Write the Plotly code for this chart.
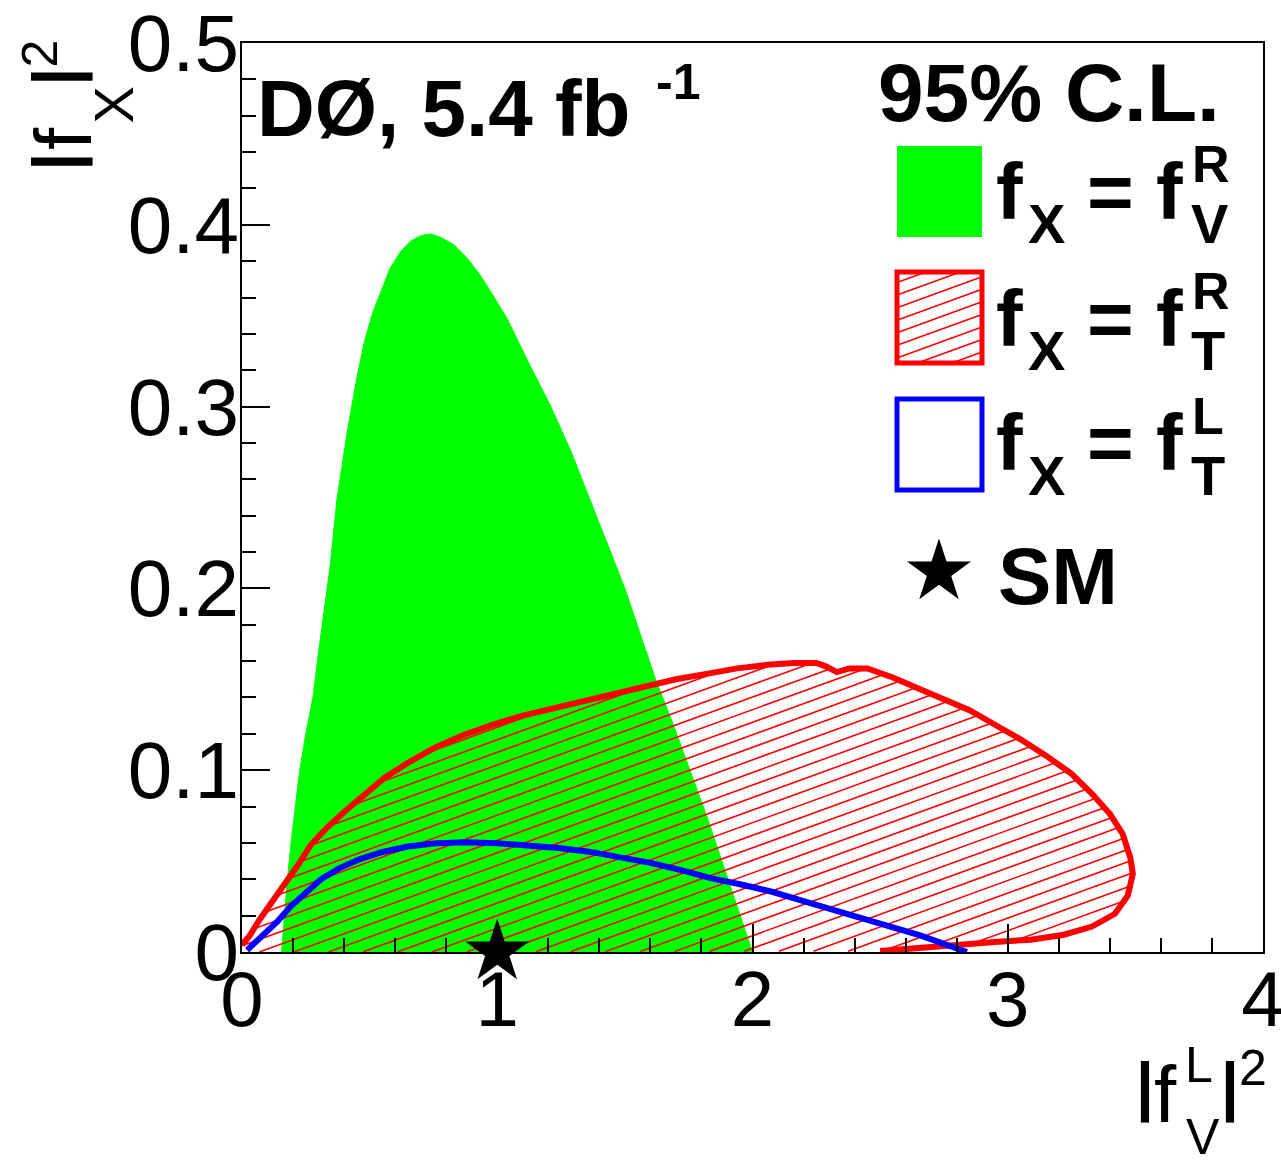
import numpy as np
import plotly.graph_objects as go

# ---------------------------------------------------------------------------
# 95% C.L. regions in the (|f_V^L|^2, |f_X|^2) plane
# ---------------------------------------------------------------------------

# f_X = f_V^R : filled region, boundary traced from the lower left
vr_x = [0.155, 0.166, 0.178, 0.192, 0.208, 0.226, 0.250, 0.278, 0.300, 0.325,
        0.345, 0.372, 0.411, 0.450, 0.480, 0.513, 0.545, 0.580, 0.620, 0.660,
        0.700, 0.740, 0.780, 0.830, 0.880, 0.930, 0.980, 1.040, 1.120, 1.210,
        1.290, 1.360, 1.430, 1.500, 1.560, 1.620, 1.690, 1.755, 1.820, 1.880,
        1.940, 2.000]
vr_y = [0.000, 0.020, 0.040, 0.060, 0.080, 0.100, 0.120, 0.140, 0.165, 0.190,
        0.212, 0.249, 0.285, 0.316, 0.336, 0.352, 0.364, 0.376, 0.385, 0.391,
        0.394, 0.395, 0.393, 0.389, 0.382, 0.373, 0.362, 0.348, 0.325, 0.300,
        0.275, 0.250, 0.225, 0.200, 0.175, 0.150, 0.125, 0.100, 0.075, 0.050,
        0.025, 0.000]

# f_X = f_T^R : contour (hatched inside, closed along |f_X|^2 = 0)
tr_x = [0.00, 0.03, 0.07, 0.12, 0.17, 0.22, 0.27, 0.33, 0.40, 0.48,
        0.56, 0.65, 0.75, 0.86, 0.98, 1.10, 1.22, 1.34, 1.46, 1.58,
        1.70, 1.82, 1.94, 2.06, 2.16, 2.25, 2.29, 2.33, 2.38, 2.45,
        2.55, 2.65, 2.75, 2.85, 2.95, 3.05, 3.15, 3.25, 3.33, 3.40,
        3.45, 3.48, 3.49, 3.47, 3.42, 3.33, 3.22, 3.09, 2.95, 2.80,
        2.65, 2.50]
tr_y = [0.004, 0.009, 0.018, 0.028, 0.037, 0.048, 0.059, 0.068, 0.077, 0.087,
        0.096, 0.104, 0.112, 0.119, 0.125, 0.130, 0.134, 0.138, 0.142, 0.146,
        0.150, 0.153, 0.156, 0.158, 0.159, 0.159, 0.157, 0.154, 0.156, 0.156,
        0.151, 0.145, 0.139, 0.133, 0.125, 0.117, 0.108, 0.098, 0.087, 0.076,
        0.065, 0.052, 0.043, 0.031, 0.021, 0.014, 0.0095, 0.0068, 0.0055, 0.004,
        0.002, 0.0005]

# f_X = f_T^L : contour line
tl_x = [0.02, 0.05, 0.09, 0.14, 0.19, 0.25, 0.31, 0.38, 0.46, 0.55,
        0.65, 0.76, 0.88, 1.00, 1.12, 1.24, 1.36, 1.48, 1.60, 1.72,
        1.84, 1.96, 2.08, 2.20, 2.32, 2.44, 2.56, 2.66, 2.75, 2.84]
tl_y = [0.001, 0.005, 0.010, 0.017, 0.025, 0.033, 0.040, 0.046, 0.051, 0.055,
        0.058, 0.0598, 0.0603, 0.0598, 0.0588, 0.0572, 0.0552, 0.0525, 0.049, 0.045,
        0.0405, 0.037, 0.033, 0.028, 0.023, 0.018, 0.0135, 0.009, 0.0045, 0.000]

# Standard Model point
sm_x = [1.0]
sm_y = [0.0]

x_range = [0, 4]
y_range = [0, 0.5]
x_ticks = [0, 1, 2, 3, 4]
y_ticks = [0, 0.1, 0.2, 0.3, 0.4, 0.5]

# ---------------------------------------------------------------------------
# canvas geometry (pixels)
# ---------------------------------------------------------------------------
W, H = 1281, 1164
ML, MR, MT, MB = 242, 18, 43, 212
PW = W - ML - MR
PH = H - MT - MB
PBOT = H - MB
SX = PW / (x_range[1] - x_range[0])
SY = PH / (y_range[1] - y_range[0])

FONT = "Liberation Sans, Arial, Helvetica, sans-serif"
GREEN = "#00ff00"
RED = "#ff0000"
BLUE = "#0000ff"

HATCH_ANGLE = 20.0     # degrees
HATCH_STEP = 11.8      # px between hatch lines
STAR_SIZE = 48


def hatch_lines(px, py, angle=HATCH_ANGLE, step=HATCH_STEP):
    """Parallel line segments clipped to a closed polygon (pixel units)."""
    pts = np.column_stack([px, py]).astype(float)
    a = np.radians(angle)
    d = np.array([np.cos(a), np.sin(a)])
    n = np.array([-np.sin(a), np.cos(a)])
    proj = pts @ n
    segs = []
    c = np.floor(proj.min() / step) * step + step / 2
    while c < proj.max():
        ts = []
        m = len(pts)
        for i in range(m):
            p, q = pts[i], pts[(i + 1) % m]
            fp, fq = p @ n - c, q @ n - c
            if (fp > 0) != (fq > 0):
                s = fp / (fp - fq)
                r = p + s * (q - p)
                ts.append(r @ d)
        ts.sort()
        for t0, t1 in zip(ts[0::2], ts[1::2]):
            segs.append((c * n + t0 * d, c * n + t1 * d))
        c += step
    return segs


fig = go.Figure()

# f_V^R region
fig.add_trace(go.Scatter(x=vr_x, y=vr_y, mode="lines", fill="toself",
                         fillcolor=GREEN, line=dict(color=GREEN, width=1),
                         hoverinfo="skip"))

# f_T^R hatching, computed in screen-proportional units so the angle is true
poly_x = np.array(tr_x + [0.0]) * SX
poly_y = np.array(tr_y + [0.0]) * SY
hx, hy = [], []
for p0, p1 in hatch_lines(poly_x, poly_y):
    hx += [p0[0] / SX, p1[0] / SX, None]
    hy += [p0[1] / SY, p1[1] / SY, None]
fig.add_trace(go.Scatter(x=hx, y=hy, mode="lines",
                         line=dict(color=RED, width=1.6), hoverinfo="skip"))

# f_T^R contour
fig.add_trace(go.Scatter(x=tr_x, y=tr_y, mode="lines",
                         line=dict(color=RED, width=6), hoverinfo="skip"))

# f_T^L contour
fig.add_trace(go.Scatter(x=tl_x, y=tl_y, mode="lines",
                         line=dict(color=BLUE, width=6), hoverinfo="skip"))

# SM
fig.add_trace(go.Scatter(x=sm_x, y=sm_y, mode="markers", cliponaxis=False,
                         marker=dict(symbol="star", size=STAR_SIZE, color="black",
                                     line=dict(width=0)),
                         hoverinfo="skip"))

# legend star, on a pixel-unit overlay
fig.add_trace(go.Scatter(x=[939], y=[572], xaxis="x2", yaxis="y2",
                         mode="markers", cliponaxis=False,
                         marker=dict(symbol="star", size=STAR_SIZE, color="black",
                                     line=dict(width=0)),
                         hoverinfo="skip"))


# ---------------------------------------------------------------------------
# text and legend, placed in pixel units
# ---------------------------------------------------------------------------
def px2paper(x, y):
    return (x - ML) / PW, (PBOT - y) / PH


def text(s, x, baseline, size, bold=False):
    """x: left edge of the text (pixels); baseline: text baseline (pixels)."""
    xp, yp = px2paper(x + 2, baseline - 0.35 * size)
    fig.add_annotation(x=xp, y=yp, xref="paper", yref="paper",
                       text=f"<b>{s}</b>" if bold else s, showarrow=False,
                       xanchor="left", yanchor="middle",
                       borderpad=0, borderwidth=0,
                       font=dict(family=FONT, size=size, color="black"))


def rtext(s, base_x, center_y, size, bold=False):
    """Text rotated by -90 degrees; base_x is the baseline position."""
    xp, yp = px2paper(base_x - 0.35 * size, center_y)
    fig.add_annotation(x=xp, y=yp, xref="paper", yref="paper",
                       text=f"<b>{s}</b>" if bold else s,
                       showarrow=False, xanchor="center", yanchor="middle",
                       textangle=-90, borderpad=0, borderwidth=0,
                       font=dict(family=FONT, size=size, color="black"))


# experiment label
text("DØ, 5.4 fb", 255, 137, 80, bold=True)
text("-1", 654, 100, 50, bold=True)

# legend header
text("95% C.L.", 876, 121, 82, bold=True)

# legend rows
BOX_X0, BOX_X1 = 897, 982
rows = [
    dict(y0=146, y1=237, base=219, sup="R", sub="V"),
    dict(y0=272, y1=363, base=346, sup="R", sub="T"),
    dict(y0=399, y1=490, base=471, sup="L", sub="T"),
]
for r in rows:
    b = r["base"]
    text("f", 994, b, 80, bold=True)
    text("X", 1026, b + 24, 56, bold=True)
    text("=", 1085, b, 80, bold=True)
    text("f", 1154, b, 80, bold=True)
    text(r["sub"], 1189, b + 24, 56, bold=True)
    text(r["sup"], 1190, b - 37, 52, bold=True)


def rect(x0, y0, x1, y1, **kw):
    a0, b0 = px2paper(x0, y1)
    a1, b1 = px2paper(x1, y0)
    fig.add_shape(type="rect", xref="paper", yref="paper",
                  x0=a0, y0=b0, x1=a1, y1=b1, layer="above", **kw)


g, rr, bb = rows
rect(BOX_X0, g["y0"], BOX_X1, g["y1"], fillcolor=GREEN, line=dict(width=0))

# hatch inside the f_T^R legend box
bx = np.array([BOX_X0, BOX_X1, BOX_X1, BOX_X0], float)
by = -np.array([rr["y0"], rr["y0"], rr["y1"], rr["y1"]], float)
path = []
for p0, p1 in hatch_lines(bx, by):
    a0, b0 = px2paper(p0[0], -p0[1])
    a1, b1 = px2paper(p1[0], -p1[1])
    path.append(f"M{a0:.5f},{b0:.5f} L{a1:.5f},{b1:.5f}")
fig.add_shape(type="path", xref="paper", yref="paper", path=" ".join(path),
              line=dict(color=RED, width=1.6), layer="above")
rect(BOX_X0, rr["y0"], BOX_X1, rr["y1"], line=dict(color=RED, width=5))
rect(BOX_X0, bb["y0"], BOX_X1, bb["y1"], line=dict(color=BLUE, width=5),
     fillcolor="white")

text("SM", 996, 604, 80, bold=True)

# x-axis title |f_V^L|^2
text("|", 1134, 1109, 64, bold=True)
text("f", 1152, 1122, 80)
text("L", 1183, 1082, 50)
text("V", 1184, 1154, 50)
text("|", 1219, 1109, 64, bold=True)
text("2", 1237, 1085, 50)

# y-axis title |f_X|^2
rtext("|", 79, 162, 64, bold=True)
rtext("f", 92, 139, 80)
rtext("X", 134, 105, 56)
rtext("|", 79, 77, 64, bold=True)
rtext("2", 57, 54, 50)

axis_common = dict(
    showline=True, linecolor="black", linewidth=2, mirror=True,
    showgrid=False, zeroline=False, automargin=False,
    ticks="inside", ticklen=28, tickwidth=2, tickcolor="black",
    ticklabeloverflow="allow",
)
fig.update_xaxes(range=x_range, tickvals=x_ticks, ticklabelstandoff=-22,
                 tickfont=dict(family=FONT, size=78, color="black"),
                 **axis_common,
                 minor=dict(dtick=0.2, ticks="inside", ticklen=14,
                            tickwidth=2, tickcolor="black"))
fig.update_yaxes(range=y_range, tickvals=y_ticks, ticklabelstandoff=-15,
                 tickfont=dict(family=FONT, size=80, color="black"),
                 **axis_common,
                 minor=dict(dtick=0.02, ticks="inside", ticklen=14,
                            tickwidth=2, tickcolor="black"))

fig.update_layout(
    width=W, height=H,
    margin=dict(l=ML, r=MR, t=MT, b=MB, autoexpand=False),
    paper_bgcolor="white", plot_bgcolor="white",
    showlegend=False,
    xaxis2=dict(overlaying="x", range=[ML, W - MR], visible=False,
                automargin=False),
    yaxis2=dict(overlaying="y", range=[PBOT, MT], visible=False,
                automargin=False),
)

fig.write_html("out.html")
